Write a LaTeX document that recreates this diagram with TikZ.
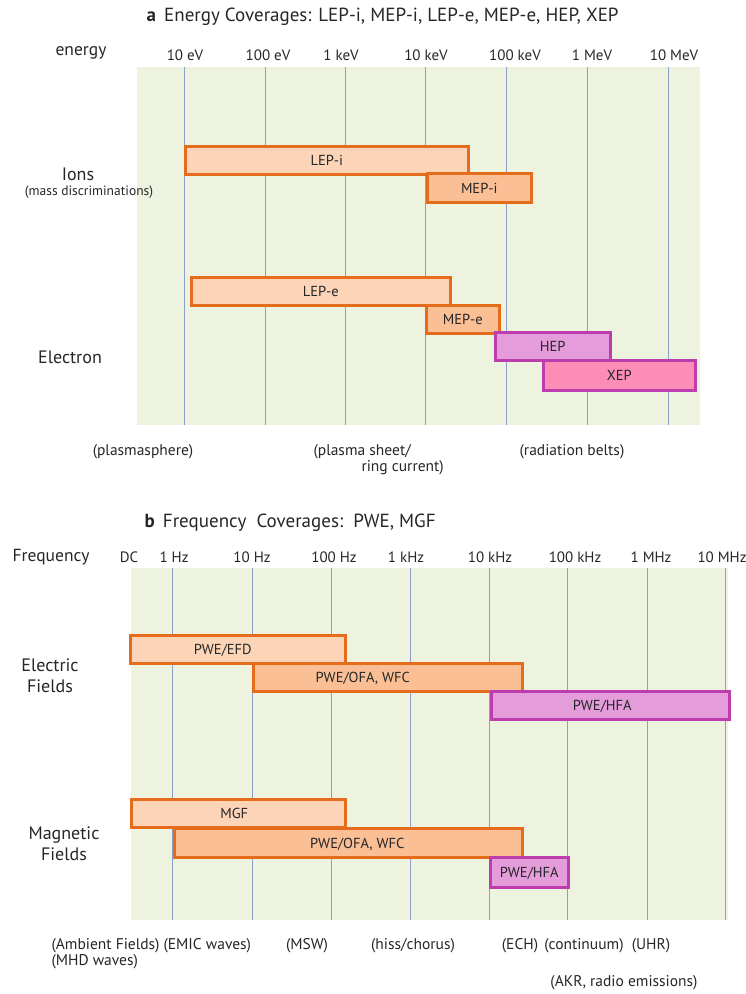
\documentclass[tikz,border=0pt]{standalone}
\usepackage{fontspec}
\setmainfont{PT Sans}
\setsansfont{PT Sans}
\usetikzlibrary{positioning}
\usepackage{xcolor}
\definecolor{bggreen}{HTML}{EDF3DF}
\definecolor{gridblue}{HTML}{8AA0C8}
\definecolor{barorange}{HTML}{E46C1A}
\definecolor{softorange}{HTML}{FCD5B8}
\definecolor{midorange}{HTML}{FABF95}
\definecolor{barpurple}{HTML}{BE3DAE}
\definecolor{softviolet}{HTML}{E59CDB}
\definecolor{softpink}{HTML}{FB8DB6}
\definecolor{darkgray}{HTML}{262626}

\begin{document}
\begin{tikzpicture}[
    x=1pt, y=-1pt,
    font=\sffamily,
    text=darkgray,
    % Estilos de barras
    lowbar/.style={
        rectangle,
        draw=barorange,
        fill=softorange,
        line width=2.5pt,
        anchor=north west,
        inner sep=0pt,
        text height=1.05em,
        text depth=0pt,
        font=\sffamily\fontsize{14.5}{17}\selectfont
    },
    midbar/.style={lowbar, fill=midorange},
    highbar/.style={lowbar, draw=barpurple, fill=softviolet},
    topbar/.style={lowbar, draw=barpurple, fill=softpink},
    gridline/.style={draw=gridblue, line width=0.9pt},
    panel/.style={fill=bggreen, draw=none},
    titletext/.style={font=\sffamily\fontsize{19}{22}\selectfont, anchor=west},
    ticktext/.style={font=\sffamily\fontsize{15}{17}\selectfont},
    axistext/.style={font=\sffamily\fontsize{17.5}{20}\selectfont},
    rowtext/.style={font=\sffamily\fontsize{18}{21}\selectfont, align=center},
    notetext/.style={font=\sffamily\fontsize{15.5}{18}\selectfont}
]

    \useasboundingbox (0,0) rectangle (745,994);

    % ==========================================
    % a. ENERGY COVERAGES
    % ==========================================
    \node[titletext] (titlea) at (143,17) {\textbf{a}\, Energy Coverages: LEP-i, MEP-i, LEP-e, MEP-e, HEP, XEP};

    \fill[panel] (137,67) rectangle (700,425);
    \foreach \x in {184,265,345,425,506,587,668}
        \draw[gridline] (\x,67) -- (\x,425);

    \node[axistext] (energy) at (81,53) {energy};
    \foreach \x/\t in {185/10 eV, 268/100 eV, 341/1 keV, 426/10 keV, 515/100 keV, 592/1 MeV, 674/10 MeV}
        \node[ticktext] (etick-\x) at (\x,55) {\t};

    % Iones
    \node[lowbar, minimum width=283pt, minimum height=28pt] (lepi) at (184,145) {LEP-i};
    \node[midbar, minimum width=104pt, minimum height=29pt] (mepi) at (426,172) {MEP-i};
    \node[rowtext] (ions) at (78,174) {Ions};
    \node[font=\sffamily\fontsize{13.5}{15}\selectfont] (massdisc) at (89,192) {(mass discriminations)};

    % Electrones
    \node[lowbar, minimum width=259pt, minimum height=28pt] (lepe) at (190,276) {LEP-e};
    \node[midbar, minimum width=73pt, minimum height=28pt] (mepe) at (425,304) {MEP-e};
    \node[highbar, minimum width=115pt, minimum height=28pt] (hep) at (494,331) {HEP};
    \node[topbar, minimum width=152pt, minimum height=30pt] (xep) at (542,359) {XEP};
    \node[rowtext] (electron) at (70,357) {Electron};

    % Regiones
    \node[notetext] (plasmasphere) at (143,452) {(plasmasphere)};
    \node[notetext, anchor=west] (plasmasheet) at (310,452) {(plasma sheet/};
    \node[notetext, anchor=west] (ringcurrent) at (358,468) {ring current)};
    \node[notetext] (radbelts) at (572,452) {(radiation belts)};

    % ==========================================
    % b. FREQUENCY COVERAGES
    % ==========================================
    \node[titletext] (titleb) at (141,523) {\textbf{b}\, Frequency~~Coverages:~~PWE, MGF};

    \fill[panel] (131,568) rectangle (728,920);
    \foreach \x in {172,252,331,410,489,567,647,725}
        \draw[gridline] (\x,568) -- (\x,920);

    \node[axistext] (frequency) at (51,557) {Frequency};
    \foreach \x/\t in {129/DC, 174/1 Hz, 252/10 Hz, 334/100 Hz, 406/1 kHz, 490/10 kHz, 575/100 kHz, 651/1 MHz, 722/10 MHz}
        \node[ticktext] (ftick-\x) at (\x,557) {\t};

    % Campo electrico
    \node[lowbar, minimum width=215pt, minimum height=28pt] (efd) at (129,634) {PWE/EFD\hspace*{30pt}};
    \node[midbar, minimum width=269pt, minimum height=28pt] (ofae) at (252,662) {PWE/OFA, WFC\hspace*{50pt}};
    \node[highbar, minimum width=238pt, minimum height=28pt] (hfae) at (490,690) {PWE/HFA\hspace*{16pt}};
    \node[rowtext] (efield) at (50,676) {Electric\\Fields};

    % Campo magnetico
    \node[lowbar, minimum width=214pt, minimum height=28pt] (mgf) at (130,798) {MGF\hspace*{8pt}};
    \node[midbar, minimum width=348pt, minimum height=29pt] (ofab) at (173,827) {\hspace*{18pt}PWE/OFA, WFC};
    \node[highbar, minimum width=78pt, minimum height=30pt] (hfab) at (489,856) {PWE/HFA};
    \node[rowtext] (bfield) at (64,844) {Magnetic\\Fields};

    % Ondas
    \node[notetext, anchor=west] (ambient) at (48,946) {(Ambient Fields)};
    \node[notetext, anchor=west] (mhd) at (48,962) {(MHD waves)};
    \node[notetext, anchor=west] (emic) at (160,946) {(EMIC waves)};
    \node[notetext] (msw) at (307,946) {(MSW)};
    \node[notetext] (hiss) at (413,946) {(hiss/chorus)};
    \node[notetext] (ech) at (520,946) {(ECH)};
    \node[notetext] (continuum) at (584,946) {(continuum)};
    \node[notetext] (uhr) at (651,946) {(UHR)};
    \node[notetext] (akr) at (624,983) {(AKR, radio emissions)};

\end{tikzpicture}
\end{document}
